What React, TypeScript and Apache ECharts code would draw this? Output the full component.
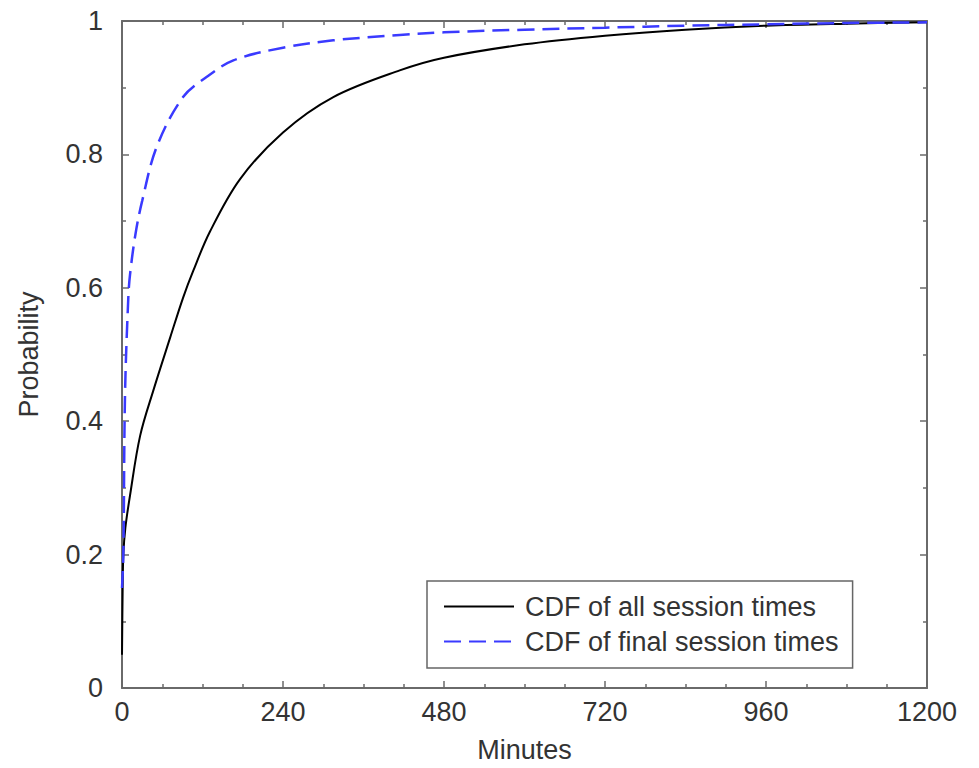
import React, { useEffect, useRef } from "react";
import * as echarts from "echarts";

const xTicks = [0, 240, 480, 720, 960, 1200];
const yTicks = [0, 0.2, 0.4, 0.6, 0.8, 1];

const allMinutes = [0, 1, 2, 5, 12, 27, 47, 72, 91, 106, 131, 176, 240, 315, 414, 480, 600, 720, 840, 960, 1080, 1200];
const allProb = [0.05, 0.15, 0.2, 0.24, 0.289, 0.378, 0.447, 0.526, 0.585, 0.625, 0.684, 0.763, 0.833, 0.886, 0.926, 0.945, 0.965, 0.978, 0.987, 0.993, 0.996, 0.998];

const finalMinutes = [0, 2, 4.5, 9.4, 12, 20, 30, 52, 91, 126, 166, 240, 315, 414, 480, 600, 720, 840, 960, 1080, 1200];
const finalProb = [0.15, 0.2, 0.44, 0.585, 0.62, 0.68, 0.73, 0.812, 0.886, 0.916, 0.941, 0.96, 0.971, 0.979, 0.983, 0.987, 0.99, 0.993, 0.995, 0.997, 0.998];

const seriesNames = ["CDF of all session times", "CDF of final session times"];

const FONT = "Liberation Sans";
const AXIS_COLOR = "#6a6a6a";
const TEXT_COLOR = "#333";

export default function App() {
  const ref = useRef<HTMLDivElement>(null);
  useEffect(() => {
    if (!ref.current) return;
    const chart = echarts.init(ref.current, undefined, { renderer: "svg" });
    const xInterval = xTicks[1] - xTicks[0];
    const yInterval = yTicks[1] - yTicks[0];
    const axisCommon = {
      axisLine: { show: true, onZero: false, lineStyle: { color: AXIS_COLOR, width: 2 } },
      axisTick: { show: true, inside: true, length: 7, lineStyle: { color: AXIS_COLOR, width: 1.5 } },
      minorTick: { show: true, length: 4, lineStyle: { color: AXIS_COLOR, width: 1.5 } },
      splitLine: { show: false },
    };
    const xBase = {
      type: "value" as const,
      min: xTicks[0],
      max: xTicks[xTicks.length - 1],
      interval: xInterval,
      ...axisCommon,
      minorTick: { ...axisCommon.minorTick, splitNumber: 4 },
    };
    const yBase = {
      type: "value" as const,
      min: yTicks[0],
      max: yTicks[yTicks.length - 1],
      interval: yInterval,
      ...axisCommon,
      minorTick: { ...axisCommon.minorTick, splitNumber: 2 },
    };
    chart.setOption({
      animation: false,
      backgroundColor: "#fff",
      grid: { left: 122, top: 21, width: 805, height: 672, containLabel: false },
      textStyle: { fontFamily: FONT },
      legend: {
        orient: "vertical",
        left: 427,
        top: 581,
        padding: [12, 14, 13, 16],
        itemGap: 8,
        itemWidth: 70,
        itemHeight: 14,
        borderColor: "#666",
        borderWidth: 1.5,
        backgroundColor: "#fff",
        itemStyle: { opacity: 0, borderWidth: 0 },
        textStyle: { fontFamily: FONT, fontSize: 27, color: TEXT_COLOR, lineHeight: 27, padding: [0, 0, 0, 6] },
        data: seriesNames,
      },
      xAxis: [
        {
          ...xBase,
          position: "bottom",
          name: "Minutes",
          nameLocation: "middle",
          nameGap: 48,
          nameTextStyle: { fontFamily: FONT, fontSize: 27, color: TEXT_COLOR },
          axisLabel: {
            fontFamily: FONT,
            fontSize: 27,
            color: TEXT_COLOR,
            margin: 10,
            formatter: (v: number) => String(v),
          },
        },
        {
          ...xBase,
          position: "top",
          axisLabel: { show: false },
        },
      ],
      yAxis: [
        {
          ...yBase,
          position: "left",
          name: "Probability",
          nameLocation: "middle",
          nameGap: 80,
          nameTextStyle: { fontFamily: FONT, fontSize: 27, color: TEXT_COLOR },
          axisLabel: {
            fontFamily: FONT,
            fontSize: 27,
            color: TEXT_COLOR,
            margin: 19,
            formatter: (v: number) => String(Math.round(v * 10) / 10),
          },
        },
        {
          ...yBase,
          position: "right",
          axisLabel: { show: false },
        },
      ],
      series: [
        {
          name: seriesNames[0],
          type: "line",
          xAxisIndex: 0,
          yAxisIndex: 0,
          data: allMinutes.map((m, i) => [m, allProb[i]]),
          showSymbol: false,
          symbol: "none",
          smooth: 0.35,
          lineStyle: { color: "#000", width: 2 },
          itemStyle: { color: "#000" },
        },
        {
          name: seriesNames[1],
          type: "line",
          xAxisIndex: 0,
          yAxisIndex: 0,
          data: finalMinutes.map((m, i) => [m, finalProb[i]]),
          showSymbol: false,
          symbol: "none",
          smooth: 0.35,
          lineStyle: { color: "#3a3aff", width: 2.5, type: [17, 8] },
          itemStyle: { color: "#3a3aff" },
        },
      ],
    });
    return () => chart.dispose();
  }, []);
  return <div ref={ref} style={{ width: 979, height: 768, position: "absolute", left: 0, top: 0 }} />;
}
